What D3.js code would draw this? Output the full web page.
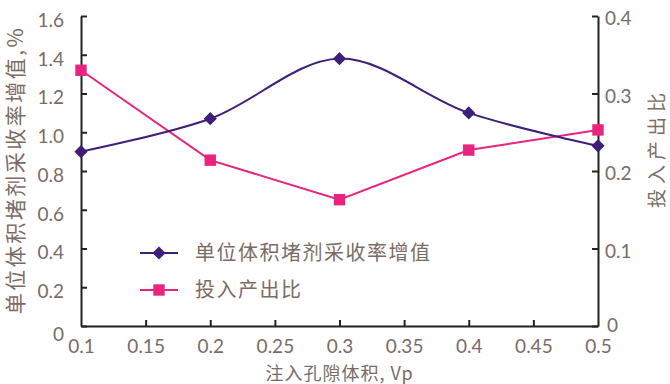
<!DOCTYPE html>
<html>
<head>
<meta charset="utf-8">
<script src="https://cdn.jsdelivr.net/npm/d3@7"></script>
<style>
  body { margin: 0; background: #fff; }
  svg { display: block; }
  .tick text { font-family: Lato, "Open Sans", sans-serif; font-size: 19px; fill: #7b6b63; }
  .cn { font-family: "Noto Sans CJK SC", sans-serif; fill: #7b6b63; }
</style>
</head>
<body>
<div class="grafico"></div>
<script>
// dados
var vp = [0.1, 0.2, 0.3, 0.4, 0.5];
var incremento = [0.90, 1.07, 1.38, 1.10, 0.93];
var relacao = [0.330, 0.214, 0.163, 0.227, 0.253];

var xTicks = [0.1, 0.15, 0.2, 0.25, 0.3, 0.35, 0.4, 0.45, 0.5];
var yLeftTicks = [0, 0.2, 0.4, 0.6, 0.8, 1.0, 1.2, 1.4, 1.6];
var yRightTicks = [0, 0.1, 0.2, 0.3, 0.4];

var nomeSerie1 = "单位体积堵剂采收率增值";
var nomeSerie2 = "投入产出比";
var tituloX = "注入孔隙体积, Vp";
var tituloY1 = "单位体积堵剂采收率增值,%";
var tituloY2 = "投入产出比";

var width = 670;
var height = 384;
var margem = {left: 81, right: 72, top: 16, bottom: 58};

var corAzul = "#3d1f7a";
var corRosa = "#e8247f";

var svg = d3.select(".grafico")
  .append("svg")
    .attr("width", width)
    .attr("height", height);

var xScale = d3.scaleLinear()
  .domain([0.1, 0.5])
  .range([margem.left, width - margem.right]);

var yLeft = d3.scaleLinear()
  .domain([0, 1.6])
  .range([height - margem.bottom, margem.top]);

var yRight = d3.scaleLinear()
  .domain([0, 0.4])
  .range([height - margem.bottom, margem.top]);

//eixos
var fmt = function(d){ return d === 0 ? "0" : d3.format(".1f")(d); };

var eixoX = svg.append("g")
  .attr("transform", "translate(0," + (height - margem.bottom) + ")")
  .call(d3.axisBottom(xScale).tickValues(xTicks).tickSize(-6).tickSizeOuter(0)
    .tickFormat(function(d){ return String(+d.toFixed(2)); }));
eixoX.selectAll("text").attr("y", 14);

var eixoY1 = svg.append("g")
  .attr("transform", "translate(" + margem.left + ",0)")
  .call(d3.axisLeft(yLeft).tickValues(yLeftTicks).tickSize(-6).tickSizeOuter(0).tickFormat(fmt));
eixoY1.selectAll("text").attr("x", -17).attr("dy", "0.55em");
eixoY1.selectAll(".tick").filter(function(d){ return d === 0; }).select("text").attr("dy", "0.75em");

var eixoY2 = svg.append("g")
  .attr("transform", "translate(" + (width - margem.right) + ",0)")
  .call(d3.axisRight(yRight).tickValues(yRightTicks).tickSize(-6).tickSizeOuter(0).tickFormat(fmt));
eixoY2.selectAll("text").attr("x", 7).attr("dy", "0.45em");
eixoY2.selectAll(".tick").filter(function(d){ return d === 0; }).select("text").attr("x", 9).attr("dy", "0.3em");

svg.selectAll(".domain").attr("stroke", "#222").attr("stroke-width", 2);
svg.selectAll(".tick line").attr("stroke", "#222").attr("stroke-width", 2);
// sem ticks nos extremos do eixo x
eixoX.selectAll(".tick").filter(function(d){ return d === 0.1 || d === 0.5; }).select("line").remove();

//titulos
svg.append("text").attr("class", "cn")
  .attr("x", (margem.left + width - margem.right) / 2)
  .attr("y", 380)
  .attr("text-anchor", "middle")
  .style("font-size", "18px")
  .style("letter-spacing", "1px")
  .text(tituloX);

svg.append("text").attr("class", "cn")
  .attr("transform", "translate(23,170) rotate(-90)")
  .attr("text-anchor", "middle")
  .style("font-size", "21px")
  .style("letter-spacing", "2.5px")
  .text(tituloY1);

svg.append("text").attr("class", "cn")
  .attr("transform", "translate(664,148) rotate(-90)")
  .attr("text-anchor", "middle")
  .style("font-size", "19px")
  .style("letter-spacing", "5px")
  .text(tituloY2);

//linhas
var pontos1 = vp.map(function(v, i){ return {x: v, y: incremento[i]}; });
var pontos2 = vp.map(function(v, i){ return {x: v, y: relacao[i]}; });

var linha1 = d3.line()
  .x(function(d){ return xScale(d.x); })
  .y(function(d){ return yLeft(d.y); })
  .curve(d3.curveCatmullRom.alpha(0.5));

var linha2 = d3.line()
  .x(function(d){ return xScale(d.x); })
  .y(function(d){ return yRight(d.y); });

svg.append("path")
  .datum(pontos2)
  .attr("d", linha2)
  .attr("fill", "none")
  .attr("stroke", corRosa)
  .attr("stroke-width", 2);

svg.append("path")
  .datum(pontos1)
  .attr("d", linha1)
  .attr("fill", "none")
  .attr("stroke", corAzul)
  .attr("stroke-width", 2);

var diamante = d3.symbol().type(d3.symbolDiamond2).size(110);
var quadrado = d3.symbol().type(d3.symbolSquare).size(130);

svg.selectAll(".m1")
  .data(pontos1)
  .enter()
    .append("path")
    .attr("class", "m1")
    .attr("d", diamante)
    .attr("transform", function(d){ return "translate(" + xScale(d.x) + "," + yLeft(d.y) + ")"; })
    .attr("fill", corAzul);

svg.selectAll(".m2")
  .data(pontos2)
  .enter()
    .append("path")
    .attr("class", "m2")
    .attr("d", quadrado)
    .attr("transform", function(d){ return "translate(" + xScale(d.x) + "," + yRight(d.y) + ")"; })
    .attr("fill", corRosa);

//legenda
var legenda = svg.append("g").attr("transform", "translate(140,253)");
var itens = [
  {nome: nomeSerie1, cor: corAzul, simbolo: diamante},
  {nome: nomeSerie2, cor: corRosa, simbolo: quadrado}
];
var item = legenda.selectAll("g")
  .data(itens)
  .enter()
    .append("g")
    .attr("transform", function(d, i){ return "translate(0," + (i * 37) + ")"; });

item.append("line")
  .attr("x1", 0).attr("x2", 38)
  .attr("stroke", function(d){ return d.cor; })
  .attr("stroke-width", 2);
item.append("path")
  .attr("d", function(d){ return d.simbolo(); })
  .attr("transform", "translate(19,0)")
  .attr("fill", function(d){ return d.cor; });
item.append("text")
  .attr("class", "cn")
  .attr("x", 55)
  .attr("dy", "0.36em")
  .style("font-size", "20px")
  .style("letter-spacing", "1.5px")
  .text(function(d){ return d.nome; });
</script>
</body>
</html>
